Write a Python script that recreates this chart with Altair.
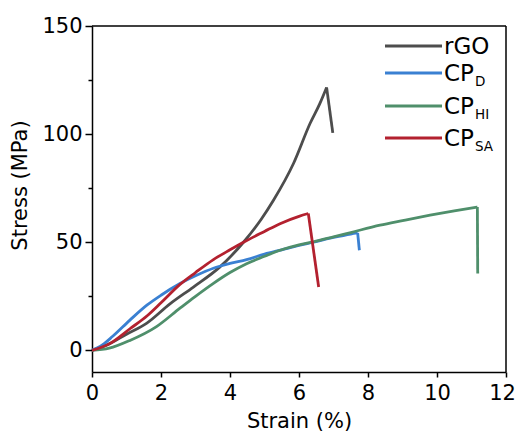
import altair as alt
import pandas as pd

# ---- data ----
series_names = ["rGO", "CP_D", "CP_HI", "CP_SA"]

rgo_strain = [0, 0.5, 1.0, 1.58, 2.26, 2.94, 3.71, 4.39, 4.9, 5.26, 5.84, 6.32, 6.6, 6.8, 6.98]
rgo_stress = [0, 3, 7.5, 12.5, 21.5, 29.3, 38.6, 50, 60.5, 69.4, 86.4, 104.9, 114, 121.6, 100.6]

cpd_strain = [0, 0.3, 0.6, 1.1, 1.6, 2.0, 2.55, 3.0, 3.52, 4.0, 4.48, 5.0, 5.5, 6.0, 6.42, 7.0, 7.5, 7.7, 7.75]
cpd_stress = [0, 2.5, 6.5, 14, 21, 25.5, 30.9, 34.5, 38, 40.2, 42, 44.5, 46.5, 48.5, 50, 52.2, 53.8, 54.3, 46.3]

cphi_strain = [0, 0.5, 1.1, 1.87, 2.55, 3.0, 3.52, 4.0, 4.48, 5.0, 5.45, 6.0, 6.42, 7.0, 7.5, 8.35, 9.0, 9.8, 10.5, 11.17, 11.18]
cphi_stress = [0, 1, 4.6, 11, 19.5, 25, 31, 36, 40.1, 43.5, 46.3, 48.8, 50.2, 52.5, 54.5, 57.9, 60, 62.5, 64.5, 66.3, 35.5]

cpsa_strain = [0, 0.5, 1.1, 1.6, 2.0, 2.55, 3.0, 3.52, 4.0, 4.39, 5.0, 5.45, 6.0, 6.27, 6.57]
cpsa_stress = [0, 3, 10, 16, 22, 30.5, 36, 42, 46.5, 50, 55, 58.6, 62, 63.3, 29.3]

x_ticks = list(range(0, 13))
y_ticks = [0, 25, 50, 75, 100, 125, 150]

colors = ["#4d4d4d", "#3a80d2", "#4f8f6b", "#b3212f"]

rise_rows, drop_rows = [], []
for name, xs, ys in [("rGO", rgo_strain, rgo_stress), ("CP_D", cpd_strain, cpd_stress),
                     ("CP_HI", cphi_strain, cphi_stress), ("CP_SA", cpsa_strain, cpsa_stress)]:
    n = len(xs)
    for i, (a, b) in enumerate(zip(xs, ys)):
        if i <= n - 2:
            rise_rows.append({"series": name, "strain": a, "stress": b, "i": i})
        if i >= n - 2:
            drop_rows.append({"series": name, "strain": a, "stress": b, "i": i})
rise = pd.DataFrame(rise_rows)
drop = pd.DataFrame(drop_rows)

FONT = "DejaVu Sans"
LBL = 21
TTL = 21
W, H = 414, 346
LW = 2.8

x_scale = alt.Scale(domain=[0, 12], nice=False, zero=False)
y_scale = alt.Scale(domain=[-10, 150], nice=False, zero=False)

x_enc = alt.X("strain:Q", scale=x_scale, title="Strain (%)",
              axis=alt.Axis(values=x_ticks, labelFlush=False,
                            labelExpr="datum.value % 2 === 0 ? datum.label : ''",
                            labelOffset={"condition": {"test": "datum.value === 12", "value": -4}, "value": 0},
                            tickSize={"condition": {"test": "datum.value % 2 === 0", "value": 5}, "value": 3},
                            grid=False, domainColor="black", domainWidth=1.5, tickColor="black", tickWidth=1.5,
                            labelFont=FONT, labelFontSize=LBL, labelColor="black", labelPadding=5,
                            titleFont=FONT, titleFontSize=TTL, titleFontWeight="normal", titleColor="black",
                            titlePadding=7))
y_enc = alt.Y("stress:Q", scale=y_scale, title="Stress (MPa)",
              axis=alt.Axis(values=y_ticks, labelFlush=False,
                            labelExpr="datum.value % 50 === 0 ? datum.label : ''",
                            tickSize={"condition": {"test": "datum.value % 50 === 0", "value": 7}, "value": 4},
                            grid=False, domainColor="black", domainWidth=1.5, tickColor="black", tickWidth=1.5,
                            labelFont=FONT, labelFontSize=LBL, labelColor="black", labelPadding=3,
                            titleFont=FONT, titleFontSize=TTL, titleFontWeight="normal", titleColor="black",
                            titlePadding=11, titleY=159))
c_enc = alt.Color("series:N", scale=alt.Scale(domain=series_names, range=colors), legend=None)

rise_lines = alt.Chart(rise).mark_line(strokeWidth=LW, interpolate="monotone", strokeCap="butt").encode(
    x=x_enc, y=y_enc, color=c_enc, order="i:Q", detail="series:N")
drop_lines = alt.Chart(drop).mark_line(strokeWidth=LW, strokeCap="butt").encode(
    x="strain:Q", y="stress:Q", color=c_enc, order="i:Q", detail="series:N")

one = pd.DataFrame({"a": [0]})
frame_top = alt.Chart(one).mark_rule(color="black", strokeWidth=1.5).encode(
    x=alt.value(0), x2=alt.value(W), y=alt.value(0))
frame_right = alt.Chart(one).mark_rule(color="black", strokeWidth=1.5).encode(
    x=alt.value(W), y=alt.value(0), y2=alt.value(H))

# custom legend with subscripts
legend_main = ["rGO", "CP", "CP", "CP"]
legend_sub = ["", "D", "HI", "SA"]
leg_y = [20, 47, 80, 112]
layers = [rise_lines, drop_lines, frame_top, frame_right]
for k in range(4):
    layers.append(alt.Chart(one).mark_rule(strokeWidth=LW, color=colors[k]).encode(
        x=alt.value(293), x2=alt.value(350), y=alt.value(leg_y[k])))
    layers.append(alt.Chart(one).mark_text(
        text=legend_main[k], font=FONT, fontSize=23, align="left", baseline="middle", color="black").encode(
        x=alt.value(352), y=alt.value(leg_y[k] + 1)))
    if legend_sub[k]:
        layers.append(alt.Chart(one).mark_text(
            text=legend_sub[k], font=FONT, fontSize=13.5, align="left", baseline="middle", color="black").encode(
            x=alt.value(383), y=alt.value(leg_y[k] + 9)))

chart = alt.layer(*layers).properties(
    width=W, height=H,
    background="white",
    autosize=alt.AutoSizeParams(type="none"),
    padding={"left": 84, "top": 18, "right": 10, "bottom": 61},
).configure_view(stroke=None)

chart.save("out.html", embed_options={"renderer": "svg", "actions": False})
